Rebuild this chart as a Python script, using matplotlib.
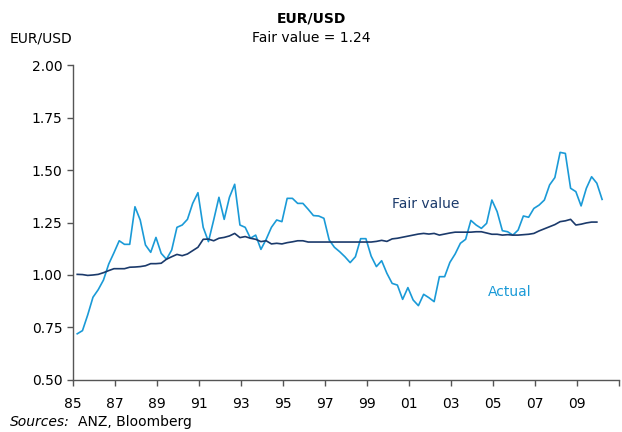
import numpy as np
import matplotlib
matplotlib.use("Agg")
import matplotlib.pyplot as plt

# quarterly EUR/USD, starting 1985 Q1
start_year = 1985.2
actual = [0.72, 0.735, 0.81, 0.894, 0.93, 0.976, 1.052, 1.106, 1.163, 1.146,
          1.146, 1.325, 1.262, 1.143, 1.108, 1.179, 1.103, 1.075, 1.119, 1.227,
          1.238, 1.265, 1.341, 1.392, 1.227, 1.159, 1.262, 1.370, 1.265, 1.370,
          1.432, 1.238, 1.227, 1.175, 1.19, 1.122, 1.170, 1.227, 1.262, 1.254,
          1.365, 1.365, 1.341, 1.341, 1.313, 1.283, 1.281, 1.270, 1.167, 1.132,
          1.111, 1.087, 1.059, 1.087, 1.173, 1.173, 1.09, 1.040, 1.068, 1.008,
          0.960, 0.952, 0.884, 0.940, 0.881, 0.854, 0.908, 0.892, 0.873, 0.992,
          0.992, 1.06, 1.10, 1.151, 1.170, 1.260, 1.238, 1.222, 1.246, 1.357,
          1.302, 1.211, 1.206, 1.190, 1.214, 1.281, 1.275, 1.317, 1.333, 1.357,
          1.429, 1.464, 1.584, 1.579, 1.413, 1.397, 1.329, 1.413, 1.468, 1.437,
          1.360]
fair_value = [1.003, 1.002, 0.998, 1.0, 1.003, 1.011, 1.021, 1.030, 1.030, 1.030,
              1.037, 1.038, 1.040, 1.044, 1.054, 1.054, 1.056, 1.075, 1.087, 1.098,
              1.092, 1.1, 1.116, 1.132, 1.170, 1.171, 1.163, 1.175, 1.179, 1.186,
              1.198, 1.178, 1.183, 1.175, 1.170, 1.159, 1.163, 1.148, 1.151, 1.148,
              1.154, 1.158, 1.163, 1.163, 1.157, 1.157, 1.157, 1.157, 1.157, 1.157,
              1.157, 1.157, 1.157, 1.157, 1.157, 1.157, 1.157, 1.16, 1.165, 1.16,
              1.172, 1.175, 1.18, 1.185, 1.19, 1.195, 1.198, 1.195, 1.198, 1.19,
              1.195, 1.2, 1.204, 1.204, 1.204, 1.204, 1.206, 1.206, 1.2, 1.194,
              1.194, 1.19, 1.192, 1.19, 1.19, 1.192, 1.194, 1.198, 1.21, 1.22,
              1.23, 1.24, 1.254, 1.258, 1.265, 1.238, 1.242, 1.248, 1.252, 1.252]

tick_years = list(range(1985, 2012, 2))
tick_labels = ["85", "87", "89", "91", "93", "95", "97", "99", "01", "03",
               "05", "07", "09", ""]
y_ticks = [0.50, 0.75, 1.00, 1.25, 1.50, 1.75, 2.00]

light = "#1a9ad7"
dark = "#1b3a6b"
axis_col = "#555555"

t_act = start_year + 0.25 * np.arange(len(actual))
t_fv = start_year + 0.25 * np.arange(len(fair_value))

fig = plt.figure(figsize=(6.22, 4.32), dpi=100)
ax = fig.add_axes([0.1174, 0.1204, 0.8776, 0.7291])

ax.plot(t_act, actual, color=light, lw=1.2)
ax.plot(t_fv, fair_value, color=dark, lw=1.2)

ax.set_xlim(1985, 2011)
ax.set_ylim(0.5, 2.0)
ax.set_xticks(tick_years)
ax.set_xticklabels(tick_labels)
ax.set_yticks(y_ticks)
ax.set_yticklabels(["%.2f" % v for v in y_ticks])

for s in ["top", "right"]:
    ax.spines[s].set_visible(False)
for s in ["left", "bottom"]:
    ax.spines[s].set_color(axis_col)
    ax.spines[s].set_linewidth(1.0)
ax.tick_params(direction="out", length=4, width=1, color=axis_col,
               labelsize=10, labelcolor="black")
ax.tick_params(axis="x", pad=8)

# series labels
ax.text(2001.8, 1.34, "Fair value", color=dark, fontsize=10,
        ha="center", va="center")
ax.text(2005.8, 0.92, "Actual", color=light, fontsize=10,
        ha="center", va="center")

fig.text(0.5, 0.958, "EUR/USD", ha="center", va="center", fontsize=10,
         fontweight="bold")
fig.text(0.5, 0.912, "Fair value = 1.24", ha="center", va="center", fontsize=10)
fig.text(0.016, 0.912, "EUR/USD", ha="left", va="center", fontsize=10)
fig.text(0.016, 0.022, "Sources:", ha="left", va="center", fontsize=10,
         style="italic")
fig.text(0.125, 0.022, "ANZ, Bloomberg", ha="left", va="center", fontsize=10)

fig.savefig("out.png", dpi=100)
